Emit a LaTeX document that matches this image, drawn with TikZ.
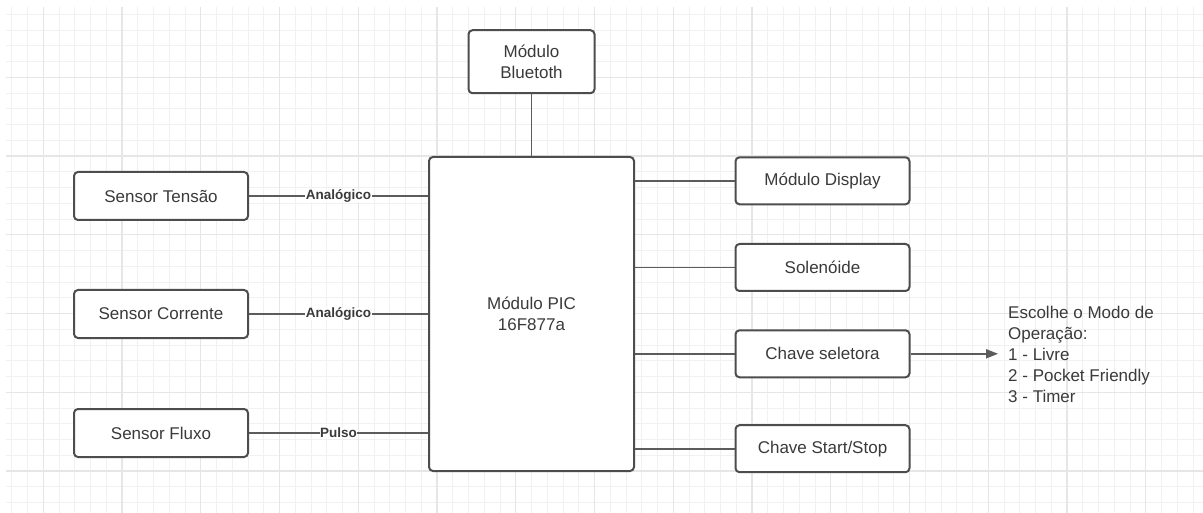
\documentclass[tikz,border=0pt]{standalone}
\usepackage{fontspec}
\setmainfont{Liberation Sans}
\usepackage{tikz}
\usetikzlibrary{shapes,arrows.meta,positioning,calc}

\definecolor{gridminor}{HTML}{F1F1F1}
\definecolor{gridmajor}{HTML}{E6E6E6}
\definecolor{boxline}{HTML}{4D4D4D}
\definecolor{wireline}{HTML}{5C5C5C}
\definecolor{txt}{HTML}{3A3A3A}

\begin{document}
\begin{tikzpicture}[
    x=1pt, y=-1pt,
    caixa/.style={rectangle, draw=boxline, line width=2pt, fill=white, rounded corners=4pt, minimum width=174pt, minimum height=48pt, align=center, text=txt, font=\fontsize{17}{21}\selectfont},
    wire/.style={draw=wireline, line width=1.7pt},
    seta/.style={wire, -{Triangle[length=12pt, width=9pt]}},
    rotulo/.style={fill=white, inner xsep=0.5pt, inner ysep=0pt, text=txt, font=\bfseries\fontsize{13.5}{16}\selectfont}
]
    \useasboundingbox (0,0) rectangle (1203,513);
    \fill[white] (0,0) rectangle (1203,513);

    % grid
    \foreach \k in {0,...,75} \draw[gridminor, line width=1pt] ({11.8+15.75*\k},7) -- ({11.8+15.75*\k},513);
    \foreach \k in {0,...,31} \draw[gridminor, line width=1pt] (6,{14.3+15.75*\k}) -- (1203,{14.3+15.75*\k});
    \foreach \k in {0,...,14} \draw[gridmajor, line width=1.2pt] ({43.3+78.75*\k},7) -- ({43.3+78.75*\k},513);
    \foreach \k in {0,...,5} \draw[gridmajor, line width=1.2pt] (6,{77.3+78.75*\k}) -- (1203,{77.3+78.75*\k});

    % blocos
    \node[caixa, minimum width=205pt, minimum height=314pt] (pic) at (531.5,314) {Módulo PIC\\16F877a};
    \node[caixa, minimum width=126pt, minimum height=63pt] (bt) at (531.5,61.7) {Módulo\\Bluetoth};

    \node[caixa] (tensao) at (161,196) {Sensor Tensão};
    \node[caixa] (corrente) at (161,314) {Sensor Corrente};
    \node[caixa] (fluxo) at (161,433) {Sensor Fluxo};

    \node[caixa, minimum height=47pt] (display) at (822.5,180.8) {Módulo Display};
    \node[caixa, minimum height=47pt] (solenoide) at (822.5,267.5) {Solenóide};
    \node[caixa, minimum height=47pt] (seletora) at (822.5,353.8) {Chave seletora};
    \node[caixa, minimum height=47pt] (startstop) at (822.5,448.7) {Chave Start/Stop};

    \node[anchor=west, align=left, inner sep=0pt, text=txt, font=\fontsize{17}{21}\selectfont] (modos) at (1008,354)
        {Escolhe o Modo de\\Operação:\\1 - Livre\\2 - Pocket Friendly\\3 - Timer};

    % ligacoes
    \draw[wire] (bt) -- (pic);
    \draw[wire] (tensao) -- node[rotulo] {Analógico} (tensao -| pic.west);
    \draw[wire] (corrente) -- node[rotulo] {Analógico} (corrente -| pic.west);
    \draw[wire] (fluxo) -- node[rotulo] {Pulso} (fluxo -| pic.west);
    \draw[wire] (display -| pic.east) -- (display);
    \draw[wire] (solenoide -| pic.east) -- (solenoide);
    \draw[wire] (seletora -| pic.east) -- (seletora);
    \draw[wire] (startstop -| pic.east) -- (startstop);
    \draw[seta, shorten >=10pt] (seletora) -- (seletora -| modos.west);
\end{tikzpicture}
\end{document}
